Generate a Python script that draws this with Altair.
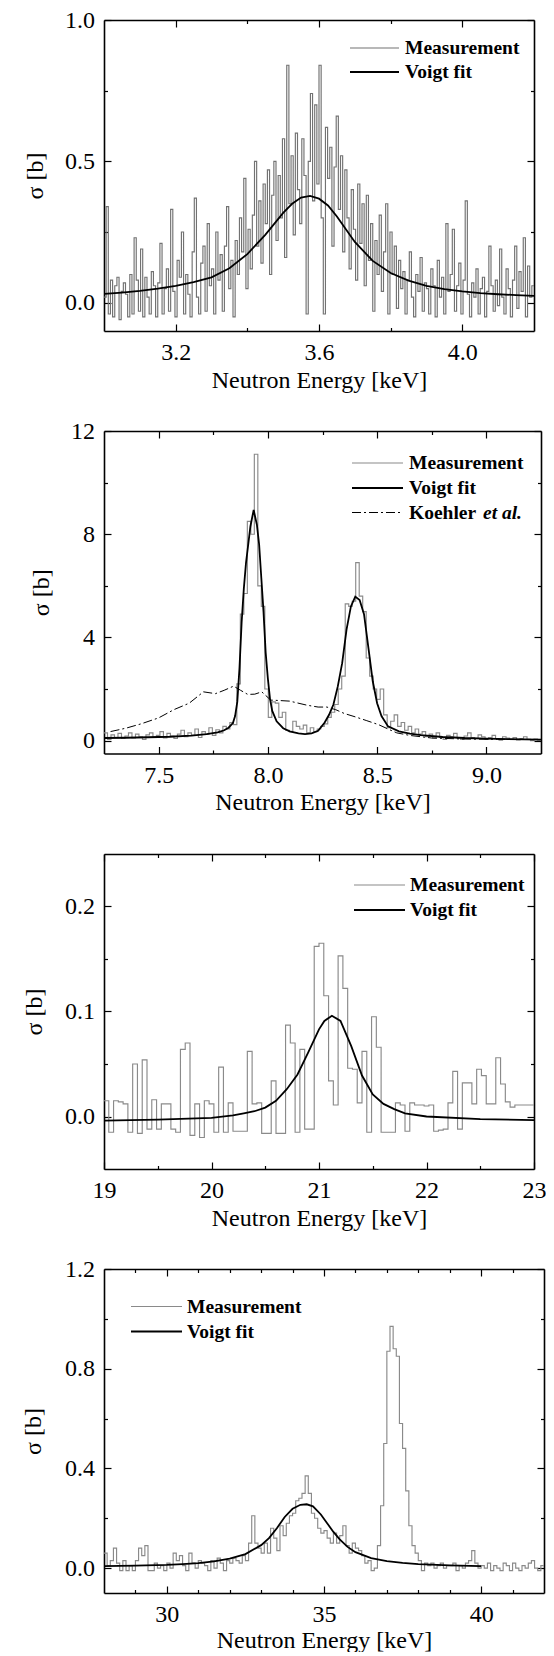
import altair as alt
import pandas as pd

FONT = "Liberation Serif"
X_TITLE = "Neutron Energy [keV]"
Y_TITLE = "σ [b]"
ET_AL = "et al."

# ---------------- panel 1 (3.0 - 4.2 keV) ----------------
p1_bin_range = [3.0, 4.2]
p1_meas = [
    0.02, 0.34, -0.04, 0.08, -0.05, 0.06, 0.09, -0.06, 0.04, 0.07,
    0.03, -0.05, 0.10, -0.04, 0.23, 0.08, -0.03, 0.19, -0.05, 0.09,
    0.02, -0.04, 0.11, 0.06, -0.05, 0.07, 0.21, -0.04, 0.05, 0.12,
    -0.03, 0.33, 0.04, -0.05, 0.15, 0.09, 0.25, -0.04, 0.10, 0.03,
    -0.05, 0.18, 0.37, 0.02, -0.04, 0.14, 0.20, -0.03, 0.28, 0.06,
    0.12, -0.04, 0.25, 0.08, 0.17, -0.03, 0.20, 0.34, 0.05, 0.15,
    -0.05, 0.22, 0.10, 0.30, 0.18, 0.44, 0.05, 0.26, 0.12, 0.31,
    0.50, 0.20, 0.36, 0.14, 0.42, 0.28, 0.47, 0.10, 0.38, 0.50,
    0.22, 0.45, 0.30, 0.58, 0.16, 0.84, 0.35, 0.52, 0.24, 0.60,
    0.40, 0.28, 0.58, 0.45, -0.04, 0.50, 0.74, 0.36, 0.70, 0.42,
    0.84, 0.30, -0.04, 0.62, 0.44, 0.55, 0.20, 0.48, 0.66, 0.33,
    0.52, 0.18, 0.47, 0.30, 0.12, 0.40, 0.26, 0.08, 0.42, 0.21,
    0.35, 0.06, 0.38, 0.15, 0.28, -0.03, 0.22, 0.10, 0.31, 0.04,
    0.18, 0.35, -0.04, 0.25, 0.10, 0.20, -0.02, 0.15, 0.05, 0.11,
    -0.04, 0.08, 0.18, 0.02, -0.05, 0.10, 0.04, 0.16, -0.03, 0.07,
    0.05, -0.04, 0.12, 0.06, -0.05, 0.15, 0.02, 0.09, -0.04, 0.28,
    0.04, 0.10, 0.26, -0.03, 0.06, 0.14, -0.04, 0.08, 0.36, 0.03,
    -0.05, 0.07, 0.02, 0.12, -0.04, 0.05, 0.09, -0.05, 0.04, 0.20,
    0.06, -0.03, 0.08, -0.01, 0.19, 0.02, -0.04, 0.12, 0.05, -0.05,
    0.08, 0.20, -0.02, 0.11, 0.04, 0.23, -0.05, 0.13, 0.02, 0.06,
]
p1_fit_x = [3.00, 3.05, 3.10, 3.15, 3.20, 3.25, 3.30, 3.35, 3.40, 3.45, 3.50, 3.525, 3.55, 3.575,
            3.60, 3.625, 3.65, 3.70, 3.75, 3.80, 3.85, 3.90, 3.95, 4.00, 4.05, 4.10, 4.15, 4.20]
p1_fit_y = [0.031, 0.036, 0.042, 0.050, 0.060, 0.073, 0.090, 0.122, 0.172, 0.240, 0.318, 0.350, 0.372, 0.378,
            0.368, 0.344, 0.305, 0.215, 0.148, 0.105, 0.078, 0.060, 0.048, 0.040, 0.034, 0.030, 0.027, 0.024]
p1_x_major = [3.2, 3.6, 4.0]
p1_x_minor = [3.4, 3.8]
p1_y_major = [0.0, 0.5, 1.0]
p1_y_minor = [0.25, 0.75]
p1_legend = ["Measurement", "Voigt fit"]

# ---------------- panel 2 (7.25 - 9.25 keV) ----------------
p2_bin_range = [7.25, 9.25]
p2_meas = [
    0.30, 0.05, 0.22, 0.12, 0.28, 0.08, 0.18, 0.30, 0.10, 0.25,
    0.15, 0.05, 0.22, 0.30, 0.12, 0.20, 0.35, 0.10, 0.28, 0.18,
    0.08, 0.25, 0.40, 0.15, 0.30, 0.20, 0.45, 0.12, 0.35, 0.25,
    0.50, 0.20, 0.42, 0.30, 0.55,
    0.45, 0.70, 0.62, 2.2, 4.9, 5.7, 8.5, 8.0, 11.1, 6.0,
    5.2, 2.0, 0.9, 1.5, 1.45, 0.9, 1.1, 0.4, 0.35, 0.75,
    0.55, 0.45, 0.6, 0.3, 0.5, 0.35, 0.45, 0.55, 0.65, 0.9,
    1.1, 1.4, 2.0, 2.5, 5.3, 5.2, 5.4, 6.9, 5.6, 5.0,
    3.2, 2.5, 2.0, 1.6, 2.0, 1.0, 0.5, 0.75, 1.0, 0.55,
    0.7, 0.4, 0.55, 0.3, 0.45, 0.25,
    0.35, 0.15, 0.25, 0.10, 0.30, 0.12, 0.05, 0.20, 0.15, 0.28,
    0.10, 0.05, 0.18, 0.30, 0.12, 0.08, 0.22, 0.15, 0.05, 0.12,
    0.20, 0.08, 0.02, 0.15, 0.10, 0.05, 0.12, 0.03, 0.08, 0.15,
    0.05, 0.00, 0.06, 0.02,
]
p2_fit_x = [7.25, 7.35, 7.45, 7.55, 7.65, 7.72, 7.77, 7.80, 7.82, 7.84, 7.85, 7.86, 7.87, 7.88, 7.89,
            7.90, 7.91, 7.92, 7.935, 7.95, 7.96, 7.97, 7.98, 7.99, 8.00, 8.01, 8.02, 8.04, 8.07, 8.10,
            8.14, 8.17, 8.20, 8.23, 8.26, 8.28, 8.30, 8.32, 8.34, 8.36, 8.38, 8.40, 8.42, 8.44, 8.46,
            8.48, 8.50, 8.52, 8.55, 8.60, 8.65, 8.70, 8.80, 8.90, 9.00, 9.10, 9.25]
p2_fit_y = [0.10, 0.11, 0.13, 0.15, 0.19, 0.25, 0.32, 0.40, 0.50, 0.68, 0.95, 1.5, 2.8, 4.6, 5.9,
            6.9, 7.6, 8.3, 8.94, 8.35, 7.6, 6.3, 5.0, 3.4, 2.4, 1.6, 1.15, 0.75, 0.48, 0.36,
            0.28, 0.25, 0.28, 0.38, 0.70, 1.0, 1.4, 2.1, 3.0, 4.3, 5.2, 5.58, 5.45, 4.9, 3.6,
            2.3, 1.45, 0.95, 0.55, 0.36, 0.27, 0.21, 0.14, 0.10, 0.08, 0.06, 0.04]
p2_koehler_x = [7.28, 7.35, 7.42, 7.50, 7.57, 7.64, 7.705, 7.76, 7.80, 7.843, 7.875, 7.908, 7.94, 7.972,
                8.013, 8.06, 8.10, 8.18, 8.23, 8.27, 8.31, 8.35, 8.40, 8.45, 8.506, 8.555, 8.59, 8.65,
                8.75, 8.90, 9.05, 9.25]
p2_koehler_y = [0.35, 0.48, 0.65, 0.88, 1.20, 1.45, 1.89, 1.82, 1.95, 2.11, 1.95, 1.79, 1.80, 1.89,
                1.57, 1.55, 1.53, 1.37, 1.30, 1.30, 1.20, 1.05, 0.92, 0.78, 0.62, 0.43, 0.30, 0.20,
                0.10, 0.06, 0.05, 0.04]
p2_x_major = [7.5, 8.0, 8.5, 9.0]
p2_x_minor = [7.75, 8.25, 8.75]
p2_y_major = [0, 4, 8, 12]
p2_y_minor = [2, 6, 10]
p2_legend = ["Measurement", "Voigt fit", "Koehler"]

# ---------------- panel 3 (19 - 23 keV) ----------------
p3_bin_range = [19.0, 23.0]
p3_meas = [
    0.015, -0.015, 0.015, 0.014, 0.012, -0.015, 0.050, -0.016, 0.054, -0.012,
    0.016, -0.012, 0.012, 0.012, -0.012, -0.015, 0.064, 0.070, -0.018, 0.012,
    -0.020, 0.015, 0.012, -0.015, 0.047, -0.015, 0.013, -0.014, -0.014, -0.014,
    0.062, 0.012, 0.013, -0.016, -0.016, 0.034, -0.016, -0.016, 0.087, 0.070,
    -0.015, 0.064, -0.012, -0.012, 0.162, 0.165, 0.115, 0.034, 0.011, 0.153,
    0.122, 0.046, 0.045, 0.013, 0.062, -0.015, 0.095, 0.066, -0.015, -0.015,
    -0.015, 0.013, 0.011, -0.014, 0.013, 0.011, 0.011, 0.010, 0.011, -0.014,
    -0.013, -0.012, 0.013, 0.043, -0.012, 0.032, 0.032, 0.012, 0.045, 0.039,
    0.012, 0.012, 0.056, 0.031, 0.014, 0.009, 0.011, 0.011, 0.011, 0.011,
]
p3_fit_x = [19.0, 19.5, 20.0, 20.2, 20.3, 20.4, 20.5, 20.6, 20.7, 20.8, 20.9, 21.0, 21.05, 21.12,
            21.2, 21.3, 21.4, 21.5, 21.6, 21.7, 21.8, 22.0, 22.5, 23.0]
p3_fit_y = [-0.004, -0.003, -0.0013, 0.001, 0.003, 0.005, 0.0085, 0.015, 0.026, 0.040, 0.061, 0.083,
            0.091, 0.096, 0.091, 0.067, 0.039, 0.021, 0.012, 0.007, 0.003, 0.0, -0.0025, -0.0035]
p3_x_major = [19, 20, 21, 22, 23]
p3_x_minor = [19.5, 20.5, 21.5, 22.5]
p3_y_major = [0.0, 0.1, 0.2]
p3_y_minor = [0.05, 0.15]
p3_legend = ["Measurement", "Voigt fit"]

# ---------------- panel 4 (28 - 42 keV) ----------------
p4_bin_range = [28.0, 42.0]
p4_meas = [
    0.06, 0.01, 0.03, 0.08, 0.02, -0.01, 0.03, -0.01, 0.01, -0.01,
    0.03, 0.08, 0.05, 0.09, -0.01, -0.01, 0.02, 0.00, 0.01, -0.01,
    0.02, 0.00, 0.06, 0.03, 0.05, 0.01, -0.01, 0.06, 0.02, 0.00,
    0.03, 0.02, 0.01, -0.01, 0.03, 0.00, 0.04, 0.02, -0.01, 0.03,
    0.02, 0.04, 0.03, 0.02, 0.05, 0.03, 0.10, 0.21, 0.10, 0.08,
    0.06, 0.10, 0.06, 0.16, 0.12, 0.07, 0.17, 0.13, 0.18, 0.21,
    0.22, 0.27, 0.28, 0.30, 0.37, 0.30, 0.22, 0.20, 0.16, 0.14,
    0.15, 0.12, 0.10, 0.14, 0.10, 0.13, 0.17, 0.09, 0.06, 0.10,
    0.08, 0.07, 0.05, 0.02, 0.03, -0.01, 0.00, 0.09, 0.25, 0.50,
    0.87, 0.97, 0.88, 0.85, 0.58, 0.48, 0.31, 0.17, 0.09, 0.06,
    0.03, -0.01, 0.02, 0.01, 0.02, 0.00, 0.01, 0.02, 0.00, 0.01,
    0.01, 0.02, -0.01, 0.01, 0.00, 0.02, 0.03, 0.07, 0.02, 0.00,
    0.01, 0.00, 0.02, -0.01, 0.01, 0.00, -0.01, 0.02, 0.01, -0.01,
    0.02, 0.00, -0.01, 0.01, 0.00, 0.02, 0.03, 0.00, -0.01, 0.01,
]
p4_fit_x = [28.0, 29.0, 30.0, 30.5, 31.0, 31.5, 32.0, 32.5, 33.0, 33.25, 33.5, 33.75, 34.0, 34.25,
            34.45, 34.65, 34.9, 35.1, 35.3, 35.5, 35.75, 36.0, 36.5, 37.0, 37.5, 38.0, 39.0, 40.0]
p4_fit_y = [0.008, 0.010, 0.013, 0.016, 0.020, 0.027, 0.038, 0.056, 0.092, 0.120, 0.160, 0.205, 0.238,
            0.254, 0.256, 0.248, 0.215, 0.180, 0.145, 0.115, 0.085, 0.064, 0.040, 0.028, 0.021, 0.016,
            0.011, 0.008]
p4_x_major = [30, 35, 40]
p4_x_minor = [29, 31, 32, 33, 34, 36, 37, 38, 39, 41]
p4_y_major = [0.0, 0.4, 0.8, 1.2]
p4_y_minor = [0.2, 0.6, 1.0]
p4_legend = ["Measurement", "Voigt fit"]


# ---------------- helpers ----------------
def step_table(rng, values):
    n = len(values)
    w = (rng[1] - rng[0]) / n
    xs = [rng[0] + i * w for i in range(n + 1)]
    ys = list(values) + [values[-1]]
    return pd.DataFrame({"x": xs, "y": ys})


def line_table(xs, ys):
    return pd.DataFrame({"x": xs, "y": ys})


ONE = pd.DataFrame({"v": [0]})

STYLE = {
    "Measurement": {"color": "#8a8a8a", "strokeWidth": 1.15},
    "Voigt fit": {"color": "black", "strokeWidth": 1.8},
    "Koehler": {"color": "black", "strokeWidth": 1.0, "strokeDash": [9, 3, 2, 3]},
}

AX_COMMON = dict(domainColor="black", domainWidth=1.6, tickColor="black", tickWidth=1.2, grid=False)


def tick_axis(orient, values, size, domain=False):
    return alt.Axis(orient=orient, values=values, tickSize={"expr": str(-size)}, labels=False,
                    domain=domain, title=None, **AX_COMMON)


def build_panel(cfg):
    W, H = cfg["W"], cfg["H"]
    xs = alt.Scale(domain=cfg["xdom"], nice=False, zero=False)
    ys = alt.Scale(domain=cfg["ydom"], nice=False, zero=False)
    lab = dict(labelFont=FONT, labelFontSize=24, labelColor="black", labelFlush=False,
               labelOverlap=False, labelPadding=16.5, titleFont=FONT, titleFontSize=24,
               titleFontWeight="normal", titleColor="black", tickSize={"expr": "-7"}, **AX_COMMON)
    x_lab = alt.Axis(orient="bottom", values=cfg["xmaj"], format=cfg["xfmt"], title=X_TITLE,
                     titleBaseline="alphabetic", titleAlign="center", titleX=W / 2, titleY=cfg["xty"], **lab)
    y_lab = alt.Axis(orient="left", values=cfg["ymaj"], format=cfg["yfmt"], title=Y_TITLE,
                     titleBaseline="alphabetic", titleAlign="center", titleAngle=270,
                     titleX=cfg["ytx"], titleY=H / 2, **lab)

    meas_df = step_table(cfg["bins"], cfg["meas"])
    fit_df = line_table(cfg["fit_x"], cfg["fit_y"])
    mcol = cfg.get("mcolor", STYLE["Measurement"]["color"])

    layers = [
        alt.Chart(meas_df).mark_line(interpolate="step-after", clip=True, color=mcol,
                                     strokeWidth=STYLE["Measurement"]["strokeWidth"]).encode(
            x=alt.X("x:Q", scale=xs, axis=x_lab), y=alt.Y("y:Q", scale=ys, axis=y_lab)),
        alt.Chart(fit_df).mark_line(clip=True, **STYLE["Voigt fit"]).encode(
            x=alt.X("x:Q", scale=xs, axis=tick_axis("bottom", cfg["xmin"], 3.5)),
            y=alt.Y("y:Q", scale=ys, axis=tick_axis("left", cfg["ymin"], 3.5))),
        alt.Chart(fit_df).mark_line(opacity=0).encode(
            x=alt.X("x:Q", scale=xs, axis=tick_axis("top", cfg["xmaj"], 7, True)),
            y=alt.Y("y:Q", scale=ys, axis=tick_axis("right", cfg["ymaj"], 7, True))),
        alt.Chart(fit_df).mark_line(opacity=0).encode(
            x=alt.X("x:Q", scale=xs, axis=tick_axis("top", cfg["xmin"], 3.5)),
            y=alt.Y("y:Q", scale=ys, axis=tick_axis("right", cfg["ymin"], 3.5))),
    ]
    if "kx" in cfg:
        k_df = line_table(cfg["kx"], cfg["ky"])
        layers.append(alt.Chart(k_df).mark_line(clip=True, **STYLE["Koehler"]).encode(
            x=alt.X("x:Q", scale=xs, axis=None), y=alt.Y("y:Q", scale=ys, axis=None)))

    # in-plot legend
    lx0, lx1, ltx = cfg["leg_x"]
    for label, yy in zip(cfg["legend"], cfg["leg_rows"]):
        st = dict(STYLE[label])
        if label == "Measurement":
            st["color"] = mcol
        layers.append(alt.Chart(ONE).mark_rule(**st).encode(
            x=alt.value(lx0), x2=alt.value(lx1), y=alt.value(yy)))
        layers.append(alt.Chart(ONE).mark_text(text=label, font=FONT, fontSize=19.5, fontWeight="bold",
                                               align="left", baseline="middle", color="black").encode(
            x=alt.value(ltx), y=alt.value(yy)))
        if label == "Koehler":
            layers.append(alt.Chart(ONE).mark_text(text=ET_AL, font=FONT, fontSize=19.5, fontWeight="bold",
                                                   fontStyle="italic", align="left", baseline="middle",
                                                   color="black").encode(
                x=alt.value(cfg["etal_x"]), y=alt.value(yy)))

    return alt.layer(*layers).resolve_axis(x="independent", y="independent").properties(width=W, height=H)


panels = [
    dict(W=430, H=311, bins=p1_bin_range, meas=p1_meas, fit_x=p1_fit_x, fit_y=p1_fit_y,
         xdom=[3.0, 4.2], ydom=[-0.1, 1.0], xmaj=p1_x_major, xmin=p1_x_minor, ymaj=p1_y_major,
         ymin=p1_y_minor, xfmt=".1f", yfmt=".1f", xty=56, ytx=-62, mcolor="#727272",
         legend=p1_legend, leg_x=(246, 295, 301), leg_rows=[28, 52]),
    dict(W=437, H=322.5, bins=p2_bin_range, meas=p2_meas, fit_x=p2_fit_x, fit_y=p2_fit_y,
         xdom=[7.25, 9.25], ydom=[-0.5, 12], xmaj=p2_x_major, xmin=p2_x_minor, ymaj=p2_y_major,
         ymin=p2_y_minor, xfmt=".1f", yfmt="d", xty=56, ytx=-56, kx=p2_koehler_x, ky=p2_koehler_y,
         legend=p2_legend, leg_x=(248, 299, 305), leg_rows=[32, 57, 81.5], etal_x=379),
    dict(W=430, H=315, bins=p3_bin_range, meas=p3_meas, fit_x=p3_fit_x, fit_y=p3_fit_y,
         xdom=[19, 23], ydom=[-0.05, 0.25], xmaj=p3_x_major, xmin=p3_x_minor, ymaj=p3_y_major,
         ymin=p3_y_minor, xfmt="d", yfmt=".1f", xty=56, ytx=-63,
         legend=p3_legend, leg_x=(250, 301, 306), leg_rows=[31, 56]),
    dict(W=440, H=324, bins=p4_bin_range, meas=p4_meas, fit_x=p4_fit_x, fit_y=p4_fit_y,
         xdom=[28, 42], ydom=[-0.1, 1.2], xmaj=p4_x_major, xmin=p4_x_minor, ymaj=p4_y_major,
         ymin=p4_y_minor, xfmt="d", yfmt=".1f", xty=54, ytx=-64,
         legend=p4_legend, leg_x=(27, 78, 83), leg_rows=[37.5, 62.5]),
]

spacer_widths = [94.7, 88, 95.3, 85.3]

cells = []
for sw, cfg in zip(spacer_widths, panels):
    spacer = alt.Chart(ONE).mark_point(opacity=0, size=0).encode(
        x=alt.value(0), y=alt.value(0)).properties(width=sw, height=4)
    cells += [spacer, build_panel(cfg)]

chart = alt.concat(*cells, columns=2, align="none", bounds="flush",
                   spacing={"row": 100, "column": 0}).properties(
    padding={"left": 0, "top": 0, "right": 0, "bottom": 0}
).configure_view(stroke=None)

chart.save("out.html", embed_options={"renderer": "svg", "actions": False})
